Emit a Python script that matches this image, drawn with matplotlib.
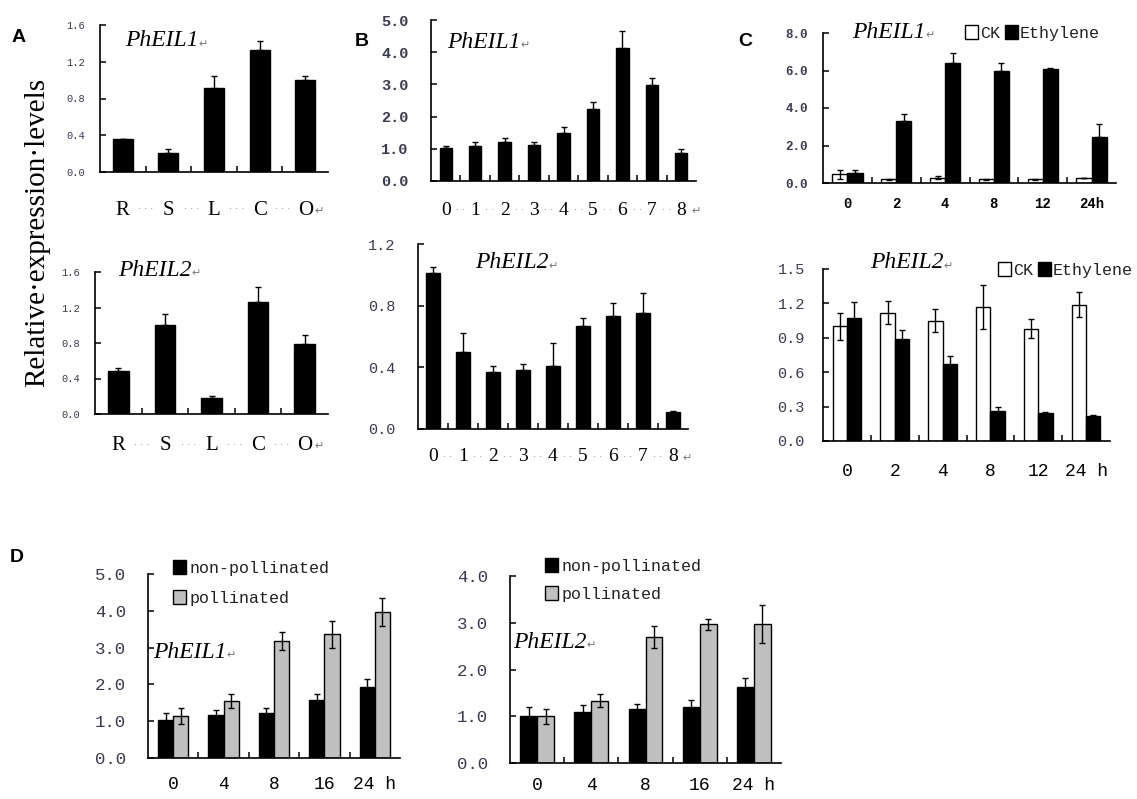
import matplotlib
matplotlib.use('Agg')
import matplotlib.pyplot as plt
from matplotlib.patches import Patch
from matplotlib.ticker import FormatStrFormatter
import numpy as np

W, H = 1137, 799

# ---------------- data ----------------
tissues = ['R', 'S', 'L', 'C', 'O']
a1_vals = [0.36, 0.21, 0.91, 1.33, 1.00]
a1_err = [0.0, 0.04, 0.14, 0.10, 0.04]
a2_vals = [0.49, 1.00, 0.18, 1.26, 0.79]
a2_err = [0.03, 0.13, 0.02, 0.17, 0.095]

stages = ['0', '1', '2', '3', '4', '5', '6', '7', '8']
b1_vals = [1.03, 1.08, 1.20, 1.13, 1.48, 2.24, 4.12, 2.98, 0.88]
b1_err = [0.07, 0.12, 0.12, 0.08, 0.21, 0.20, 0.55, 0.21, 0.12]
b2_vals = [1.01, 0.50, 0.37, 0.38, 0.41, 0.67, 0.73, 0.75, 0.11]
b2_err = [0.04, 0.12, 0.04, 0.04, 0.145, 0.05, 0.085, 0.13, 0.005]

hours_c1 = ['0', '2', '4', '8', '12', '24h']
c1_ck = [0.46, 0.20, 0.29, 0.20, 0.20, 0.27]
c1_ck_err = [0.25, 0.04, 0.10, 0.04, 0.04, 0.0]
c1_eth = [0.54, 3.32, 6.39, 5.95, 6.09, 2.46]
c1_eth_err = [0.14, 0.36, 0.57, 0.44, 0.07, 0.68]

hours_c2 = ['0', '2', '4', '8', '12', '24 h']
c2_ck = [1.00, 1.12, 1.05, 1.17, 0.98, 1.19]
c2_ck_err = [0.12, 0.10, 0.10, 0.19, 0.085, 0.11]
c2_eth = [1.07, 0.89, 0.67, 0.26, 0.24, 0.22]
c2_eth_err = [0.14, 0.08, 0.07, 0.04, 0.01, 0.005]

hours_d = ['0', '4', '8', '16', '24 h']
d1_non = [1.03, 1.18, 1.23, 1.57, 1.94]
d1_non_err = [0.18, 0.12, 0.12, 0.16, 0.22]
d1_pol = [1.14, 1.55, 3.18, 3.36, 3.97]
d1_pol_err = [0.21, 0.18, 0.25, 0.36, 0.39]
d2_non = [1.00, 1.10, 1.16, 1.19, 1.62]
d2_non_err = [0.19, 0.14, 0.10, 0.16, 0.19]
d2_pol = [1.00, 1.33, 2.69, 2.97, 2.97]
d2_pol_err = [0.16, 0.14, 0.23, 0.12, 0.40]

SERIF = 'Liberation Serif'
MONO = 'Liberation Mono'
SANS = 'Liberation Sans'
TICKC = '#3a3a50'

fig = plt.figure(figsize=(W / 100, H / 100), dpi=100)


def px_axes(l, t, r, b):
    return fig.add_axes([l / W, 1 - b / H, (r - l) / W, (b - t) / H])


def fx(x):
    return x / W


def fy(y):
    return 1 - y / H


def setup(ax, cats, ymax, step, yfs, yweight, ypad, xfs, xfam, xweight, xpad):
    n = len(cats)
    ax.set_xlim(-0.5, n - 0.5)
    ax.set_ylim(0, ymax)
    ax.set_yticks(np.arange(0, ymax + step / 2, step))
    ax.yaxis.set_major_formatter(FormatStrFormatter('%.1f'))
    for s in ['top', 'right']:
        ax.spines[s].set_visible(False)
    for s in ['left', 'bottom']:
        ax.spines[s].set_linewidth(1.2)
    ax.tick_params(axis='y', direction='in', length=4, width=1.1, pad=ypad,
                   labelsize=yfs, labelcolor=TICKC)
    for lab in ax.get_yticklabels():
        lab.set_fontfamily(MONO)
        lab.set_fontweight(yweight)
    ax.set_xticks(np.arange(n))
    ax.set_xticklabels(cats, fontsize=xfs, family=xfam, fontweight=xweight)
    ax.set_xticks(np.arange(n - 1) + 0.5, minor=True)
    ax.tick_params(axis='x', which='major', length=0, pad=xpad)
    ax.tick_params(axis='x', which='minor', direction='in', length=4, width=1.1)


def single_bars(ax, vals, err, width):
    x = np.arange(len(vals))
    ax.bar(x, vals, width, color='black', edgecolor='black', lw=1)
    ax.errorbar(x, vals, yerr=[np.zeros(len(vals)), err], fmt='none',
                ecolor='black', elinewidth=1, capsize=2.5, capthick=1)


def pair_bars(ax, v1, e1, c1, v2, e2, c2, width, up_only2=False):
    x = np.arange(len(v1))
    ax.bar(x - width / 2, v1, width, color=c1, edgecolor='black', lw=1)
    ax.bar(x + width / 2, v2, width, color=c2, edgecolor='black', lw=1)
    ax.errorbar(x - width / 2, v1, yerr=e1, fmt='none', ecolor='black',
                elinewidth=1, capsize=2.5, capthick=1)
    e2v = [np.zeros(len(v2)), e2] if up_only2 else e2
    ax.errorbar(x + width / 2, v2, yerr=e2v, fmt='none', ecolor='black',
                elinewidth=1, capsize=2.5, capthick=1)


def gene_title(x, y, name):
    t = fig.text(fx(x), fy(y), name, family=SERIF, style='italic',
                 fontsize=17, ha='left', va='center')
    fig.axes[-1].annotate('\u21b5', xy=(1.0, 0.35), xycoords=t, fontsize=8,
                          color='#777777', ha='left', va='center',
                          family='DejaVu Sans')


def dots(ax, n, dtxt, off, fs):
    for i in range(n - 1):
        ax.annotate(dtxt, xy=(i + 0.5, 0), xycoords=('data', 'axes fraction'),
                    xytext=(0, -off), textcoords='offset points',
                    ha='center', va='center', fontsize=fs, color='#888888')
    ax.annotate('\u21b5', xy=(n - 1, 0), xycoords=('data', 'axes fraction'),
                xytext=(7, -off - 1), textcoords='offset points',
                ha='left', va='center', fontsize=8, color='#777777',
                family='DejaVu Sans')


# ---------------- panel A ----------------
axA1 = px_axes(100, 25, 328, 172)
single_bars(axA1, a1_vals, a1_err, 0.44)
setup(axA1, tissues, 1.6, 0.4, 7.5, 'normal', 11, 15, SERIF, 'normal', 21)
dots(axA1, 5, '\u00b7 \u00b7 \u00b7', 27, 7)
gene_title(125, 41, 'PhEIL1')

axA2 = px_axes(95, 272, 328, 414)
single_bars(axA2, a2_vals, a2_err, 0.44)
setup(axA2, tissues, 1.6, 0.4, 7.5, 'normal', 11, 15, SERIF, 'normal', 16)
dots(axA2, 5, '\u00b7 \u00b7 \u00b7', 22, 7)
gene_title(118, 270, 'PhEIL2')

fig.text(fx(37), fy(232), 'Relative\u00b7expression\u00b7levels', rotation=90,
         family=SERIF, fontsize=21, ha='center', va='center')

# ---------------- panel B ----------------
axB1 = px_axes(431, 20, 696, 181)
single_bars(axB1, b1_vals, b1_err, 0.42)
setup(axB1, stages, 5.0, 1.0, 11, 'bold', 16, 14, SERIF, 'normal', 15)
dots(axB1, 9, '\u00b7 \u00b7', 21, 7)
gene_title(447, 42, 'PhEIL1')

axB2 = px_axes(418, 244, 688, 429)
single_bars(axB2, b2_vals, b2_err, 0.47)
setup(axB2, stages, 1.2, 0.4, 11, 'normal', 16, 14, SERIF, 'normal', 14)
dots(axB2, 9, '\u00b7 \u00b7', 20, 7)
gene_title(475, 263, 'PhEIL2')

# ---------------- panel C ----------------
axC1 = px_axes(823, 33, 1116, 183)
pair_bars(axC1, c1_ck, c1_ck_err, 'white', c1_eth, c1_eth_err, 'black', 0.31,
          up_only2=True)
setup(axC1, hours_c1, 8.0, 2.0, 9, 'bold', 11, 10, MONO, 'bold', 10)
gene_title(852, 32, 'PhEIL1')
axC1.legend(handles=[Patch(facecolor='white', edgecolor='black', label='CK'),
                     Patch(facecolor='black', edgecolor='black', label='Ethylene')],
            loc='center left', bbox_to_anchor=(fx(965), fy(33)),
            bbox_transform=fig.transFigure, ncol=2, frameon=False,
            prop={'family': MONO, 'size': 12}, handlelength=0.8,
            handleheight=0.9, handletextpad=0.1, columnspacing=0.3,
            borderpad=0, borderaxespad=0, labelcolor='#222222')

axC2 = px_axes(823, 269, 1110, 441)
pair_bars(axC2, c2_ck, c2_ck_err, 'white', c2_eth, c2_eth_err, 'black', 0.3)
setup(axC2, hours_c2, 1.5, 0.3, 11, 'normal', 13, 13, MONO, 'normal', 16)
gene_title(870, 263, 'PhEIL2')
axC2.legend(handles=[Patch(facecolor='white', edgecolor='black', label='CK'),
                     Patch(facecolor='black', edgecolor='black', label='Ethylene')],
            loc='center left', bbox_to_anchor=(fx(998), fy(270)),
            bbox_transform=fig.transFigure, ncol=2, frameon=False,
            prop={'family': MONO, 'size': 12}, handlelength=0.8,
            handleheight=0.9, handletextpad=0.1, columnspacing=0.3,
            borderpad=0, borderaxespad=0, labelcolor='#222222')

# ---------------- panel D ----------------
axD1 = px_axes(148, 574, 400, 758)
pair_bars(axD1, d1_non, d1_non_err, 'black', d1_pol, d1_pol_err, '#c0c0c0', 0.3)
setup(axD1, hours_d, 5.0, 1.0, 12.5, 'normal', 16, 13, MONO, 'normal', 13)
gene_title(153, 652, 'PhEIL1')
axD1.legend(handles=[Patch(facecolor='black', edgecolor='black', label='non-pollinated'),
                     Patch(facecolor='#c0c0c0', edgecolor='black', label='pollinated')],
            loc='center left', bbox_to_anchor=(fx(173), fy(583)),
            bbox_transform=fig.transFigure, frameon=False,
            prop={'family': MONO, 'size': 12}, handlelength=0.8,
            handleheight=0.9, handletextpad=0.2, labelspacing=0.9,
            borderpad=0, borderaxespad=0, labelcolor='#222222')

axD2 = px_axes(510, 576, 781, 763)
pair_bars(axD2, d2_non, d2_non_err, 'black', d2_pol, d2_pol_err, '#c0c0c0', 0.31)
setup(axD2, hours_d, 4.0, 1.0, 12.5, 'normal', 16, 13, MONO, 'normal', 10)
gene_title(513, 642, 'PhEIL2')
axD2.legend(handles=[Patch(facecolor='black', edgecolor='black', label='non-pollinated'),
                     Patch(facecolor='#c0c0c0', edgecolor='black', label='pollinated')],
            loc='center left', bbox_to_anchor=(fx(545), fy(580)),
            bbox_transform=fig.transFigure, frameon=False,
            prop={'family': MONO, 'size': 12}, handlelength=0.8,
            handleheight=0.9, handletextpad=0.2, labelspacing=0.75,
            borderpad=0, borderaxespad=0, labelcolor='#222222')

# panel letters
for letter, x, y in [('A', 19, 38), ('B', 362, 42), ('C', 745, 42), ('D', 17, 558)]:
    fig.text(fx(x), fy(y), letter, family=SANS, fontweight='bold', fontsize=14,
             ha='center', va='center')

fig.savefig('out.png', dpi=100)
